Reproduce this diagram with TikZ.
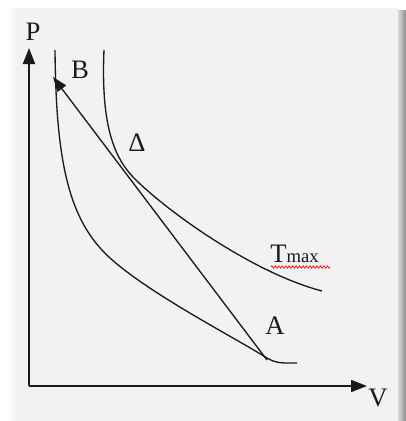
\documentclass[tikz,border=0pt]{standalone}
\usepackage{fontspec}
\setmainfont{Liberation Serif}
\usetikzlibrary{arrows.meta,decorations.pathmorphing}
\definecolor{panel}{HTML}{F2F2F2}
\definecolor{ink}{HTML}{1A1A1A}
\begin{document}
\begin{tikzpicture}[x=0.75pt,y=-0.75pt,
  axis/.style={draw=ink,line width=1.4pt,-{Triangle[length=12pt,width=9pt]}},
  curve/.style={draw=ink,line width=1pt},
  lbl/.style={inner sep=0pt,font=\fontsize{20}{24}\selectfont,text=ink}]
\useasboundingbox (0,0) rectangle (406,421);
\fill[white] (0,0) rectangle (406,421);
\shade[left color=white,right color=panel] (8,8) rectangle (16,421);
\shade[left color=panel!90!black,right color=black!45] (398,10) rectangle (406,421);
\fill[panel] (16,8) rectangle (398,421);
% axes
\coordinate (O) at (29,386);
\coordinate (Ptip) at (29,48);
\coordinate (Vtip) at (367,386);
\draw[axis] (O) -- (Ptip);
\draw[axis] (O) -- (Vtip);
% labels
\node[lbl] (P) at (33,32) {P};
\node[lbl] (V) at (378,398) {V};
\node[lbl] (B) at (80,70) {B};
\node[lbl] (D) at (137,143) {Δ};
\node[lbl] (A) at (275,326) {A};
\node[lbl,anchor=base west] (T) at (270,262) {T\raisebox{-0.5pt}{\fontsize{14}{16}\selectfont max}};
\draw[red,line width=0.5pt,decorate,decoration={zigzag,segment length=2.6pt,amplitude=0.9pt}] (271,267) -- (330,267);
% curves
\draw[curve] (55,50) .. controls (56,160) and (68,220) .. (110,258)
  .. controls (150,294) and (230,335) .. (267,358)
  .. controls (277,364) and (285,363) .. (297,363);
\draw[curve] (104,50) .. controls (101,120) and (112,155) .. (133,177)
  .. controls (163,208) and (250,272) .. (322,291);
\coordinate (Apt) at (267,360);
\coordinate (Bpt) at (53,77);
\draw[curve,-{Triangle[length=11pt,width=8pt]}] (Apt) -- (Bpt);
\end{tikzpicture}
\end{document}
